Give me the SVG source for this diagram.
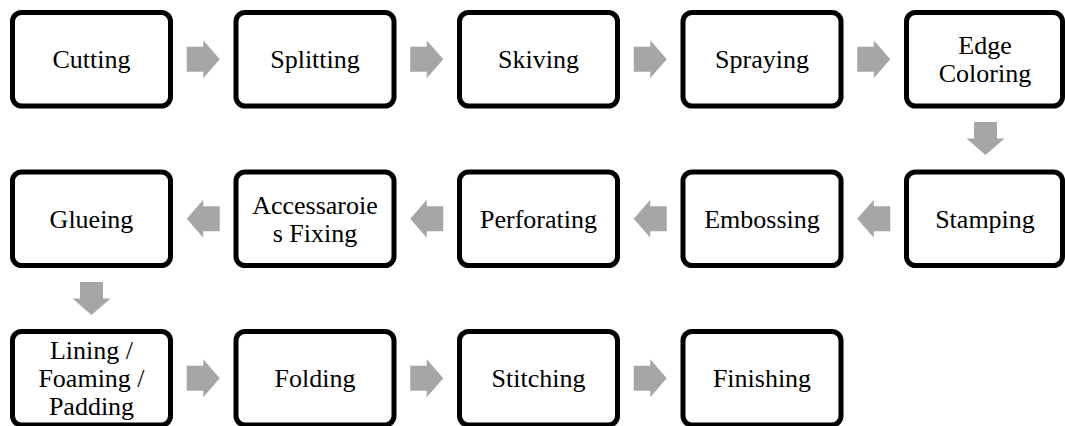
<svg xmlns="http://www.w3.org/2000/svg" width="1065" height="426" viewBox="0 0 1065 426">
<style>
.box{fill:#fff;stroke:#000;stroke-width:5}
.t{font-family:"Liberation Serif","Times New Roman",serif;font-size:26px;fill:#000;text-anchor:middle}
.arr{fill:#A6A6A6}
</style>
<defs>
<path id="ar" d="M-16.5,-12.5H0V-19L16.5,0L0,19V12.5H-16.5Z"/>
<path id="al" d="M16.5,-12.5H0V-19L-16.5,0L0,19V12.5H16.5Z"/>
<path id="ad" d="M-11.5,-16.5H11.5V0H19L0,16.5L-19,0H-11.5Z"/>
</defs>
<g id="connectors" class="arr">
<use href="#ar" x="203.25" y="59.25"/>
<use href="#ar" x="426.75" y="59.25"/>
<use href="#ar" x="650.25" y="59.25"/>
<use href="#ar" x="873.75" y="59.25"/>
<use href="#ad" x="985.5" y="138.5"/>
<use href="#al" x="873.75" y="218.75"/>
<use href="#al" x="650.25" y="218.75"/>
<use href="#al" x="426.75" y="218.75"/>
<use href="#al" x="203.25" y="218.75"/>
<use href="#ad" x="91.5" y="298.5"/>
<use href="#ar" x="203.25" y="378.25"/>
<use href="#ar" x="426.75" y="378.25"/>
<use href="#ar" x="650.25" y="378.25"/>
</g>
<g id="cutting"><rect class="box" x="12.5" y="12.5" width="158" height="93.5" rx="9"/><text class="t" x="91.5" y="68.25">Cutting</text></g>
<g id="splitting"><rect class="box" x="236" y="12.5" width="158" height="93.5" rx="9"/><text class="t" x="315" y="68.25">Splitting</text></g>
<g id="skiving"><rect class="box" x="459.5" y="12.5" width="158" height="93.5" rx="9"/><text class="t" x="538.5" y="68.25">Skiving</text></g>
<g id="spraying"><rect class="box" x="683" y="12.5" width="158" height="93.5" rx="9"/><text class="t" x="762" y="68.25">Spraying</text></g>
<g id="edge-coloring"><rect class="box" x="906.5" y="12.5" width="156" height="93.5" rx="9"/><text class="t" x="985" y="54">Edge</text><text class="t" x="985" y="82">Coloring</text></g>
<g id="stamping"><rect class="box" x="906.5" y="172" width="156" height="93.5" rx="9"/><text class="t" x="985" y="227.75">Stamping</text></g>
<g id="embossing"><rect class="box" x="683" y="172" width="158" height="93.5" rx="9"/><text class="t" x="762" y="227.75">Embossing</text></g>
<g id="perforating"><rect class="box" x="459.5" y="172" width="158" height="93.5" rx="9"/><text class="t" x="538.5" y="227.75">Perforating</text></g>
<g id="accessories-fixing"><rect class="box" x="236" y="172" width="158" height="93.5" rx="9"/><text class="t" x="315" y="213.5">Accessaroie</text><text class="t" x="315" y="241.5">s Fixing</text></g>
<g id="glueing"><rect class="box" x="12.5" y="172" width="158" height="93.5" rx="9"/><text class="t" x="91.5" y="227.75">Glueing</text></g>
<g id="lining"><rect class="box" x="12.5" y="331.5" width="158" height="93.5" rx="9"/><text class="t" x="91.5" y="359">Lining /</text><text class="t" x="91.5" y="387">Foaming /</text><text class="t" x="91.5" y="414.5">Padding</text></g>
<g id="folding"><rect class="box" x="236" y="331.5" width="158" height="93.5" rx="9"/><text class="t" x="315" y="387.25">Folding</text></g>
<g id="stitching"><rect class="box" x="459.5" y="331.5" width="158" height="93.5" rx="9"/><text class="t" x="538.5" y="387.25">Stitching</text></g>
<g id="finishing"><rect class="box" x="683" y="331.5" width="158" height="93.5" rx="9"/><text class="t" x="762" y="387.25">Finishing</text></g>
</svg>
